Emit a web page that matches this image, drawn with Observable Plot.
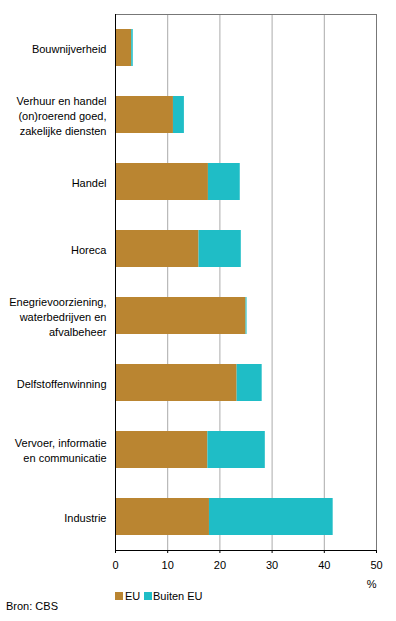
<!DOCTYPE html>
<html>
<head>
<meta charset="utf-8">
<script src="https://cdn.jsdelivr.net/npm/d3@7"></script>
<script src="https://cdn.jsdelivr.net/npm/@observablehq/plot@0.6"></script>
<style>
  html, body { margin: 0; padding: 0; background: #fff; }
  #wrap { position: relative; width: 396px; height: 621px; font-family: "Liberation Sans", Arial, sans-serif; font-size: 11px; color: #000; }
  .lg { position: absolute; line-height: 12px; white-space: nowrap; }
  .sw { position: absolute; width: 8px; height: 8px; }
</style>
</head>
<body>
<div id="wrap"></div>
<script>
const categories = [
  "Bouwnijverheid",
  "Verhuur en handel\n(on)roerend goed,\nzakelijke diensten",
  "Handel",
  "Horeca",
  "Enegrievoorziening,\nwaterbedrijven en\nafvalbeheer",
  "Delfstoffenwinning",
  "Vervoer, informatie\nen communicatie",
  "Industrie"
];
const seriesNames = ["EU", "Buiten EU"];
const euValues     = [3.1, 11.1, 17.8, 16.0, 25.0, 23.3, 17.7, 18.0];
const buitenValues = [0.3,  2.1,  6.1,  8.1,  0.2,  4.8, 11.0, 23.7];
const xTicks = [0, 10, 20, 30, 40, 50];
const colors = ["#BA8531", "#1FBDC6"];

const data = [];
categories.forEach((c, i) => {
  data.push({category: c, series: seriesNames[0], value: euValues[i]});
  data.push({category: c, series: seriesNames[1], value: buitenValues[i]});
});

const chart = Plot.plot({
  width: 396,
  height: 590,
  marginLeft: 115,
  marginRight: 20,
  marginTop: 14,
  marginBottom: 40,
  style: {fontFamily: '"Liberation Sans", Arial, sans-serif', fontSize: "11px", color: "#000", background: "#fff"},
  x: {domain: [0, 50], label: null},
  y: {domain: categories, padding: 0, label: null},
  color: {domain: seriesNames, range: colors},
  marks: [
    Plot.gridX([10, 20, 30, 40], {stroke: "#ababab", strokeOpacity: 1}),
    Plot.barX(data, {x: "value", y: "category", fill: "series", insetTop: 15, insetBottom: 15}),
    Plot.frame({anchor: "top", stroke: "#777", strokeOpacity: 1}),
    Plot.ruleX([50], {stroke: "#777"}),
    Plot.frame({anchor: "bottom", stroke: "#000", strokeOpacity: 1}),
    Plot.ruleX([0], {stroke: "#000"}),
    Plot.axisX(xTicks, {tickSize: 3, tickPadding: 8, label: null}),
    Plot.axisY({tickSize: 0, tickPadding: 9, lineHeight: 1.35, label: null}),
    Plot.text(["%"], {frameAnchor: "bottom-right", textAnchor: "end", lineAnchor: "middle", dy: 34})
  ]
});

const wrap = document.getElementById("wrap");
wrap.appendChild(chart);

function addSwatch(x, y, color) {
  const d = document.createElement("div");
  d.className = "sw";
  d.style.left = x + "px"; d.style.top = y + "px"; d.style.background = color;
  wrap.appendChild(d);
}
function addText(x, y, t) {
  const d = document.createElement("div");
  d.className = "lg";
  d.style.left = x + "px"; d.style.top = y + "px";
  d.textContent = t;
  wrap.appendChild(d);
}
addSwatch(115, 592, colors[0]);
addText(125, 590, seriesNames[0]);
addSwatch(144, 592, colors[1]);
addText(153, 590, seriesNames[1]);
addText(6, 600, "Bron: CBS");
</script>
</body>
</html>
